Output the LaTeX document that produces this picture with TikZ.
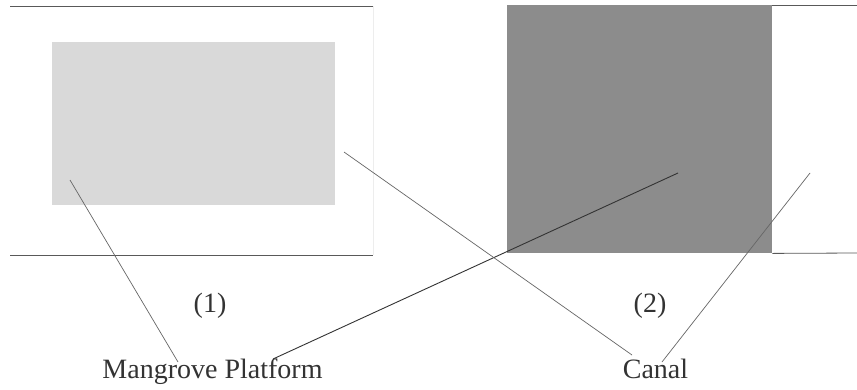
\documentclass[tikz,border=0pt]{standalone}
\usepackage{fontspec}
\setmainfont{Liberation Serif}
\begin{document}
\begin{tikzpicture}[x=1pt,y=-1pt,
  lbl/.style={inner sep=0pt, anchor=base, text=black!80, font=\fontsize{28}{30}\selectfont},
  panel/.style={inner sep=0pt, anchor=north west, draw=none},
  frame/.style={draw=black!65, line width=0.8pt},
  faint/.style={draw=black!7, line width=0.6pt},
  lead/.style={draw=black!60, line width=0.7pt},
  leaddark/.style={draw=black!80, line width=0.9pt}]
\useasboundingbox (0,0) rectangle (857,389);
\fill[white] (0,0) rectangle (857,389);
% panels
\node[panel, fill=black!15, minimum width=283pt, minimum height=163pt] (plat) at (52,42) {};
\node[panel, fill=black!45, minimum width=265pt, minimum height=248pt] (canalsq) at (507,5) {};
% frame lines
\draw[frame] (10,6) -- (373,6);
\draw[frame] (10,255) -- (373,255);
\draw[faint] (373,6) -- (373,255);
\draw[frame] (canalsq.north east) -- (857,5);
\draw[frame] (canalsq.south east) -- (857,253);
% labels
\node[lbl] (one) at (210,312) {(1)};
\node[lbl] (two) at (650,312) {(2)};
\node[lbl] (mp) at (212.5,378) {Mangrove Platform};
\node[lbl] (canal) at (655.5,378) {Canal};
% connector ends
\coordinate (p1) at (70,180);
\coordinate (p2) at (678,173);
\coordinate (c1) at (344,152);
\coordinate (c2) at (810,173);
\coordinate (mpa) at (178,362);
\coordinate (mpb) at (273,359);
\coordinate (caa) at (632,355);
\coordinate (cab) at (662,362);
\draw[lead] (mpa) -- (p1);
\draw[leaddark] (mpb) -- (p2);
\draw[lead] (caa) -- (c1);
\draw[lead] (cab) -- (c2);
\end{tikzpicture}
\end{document}
